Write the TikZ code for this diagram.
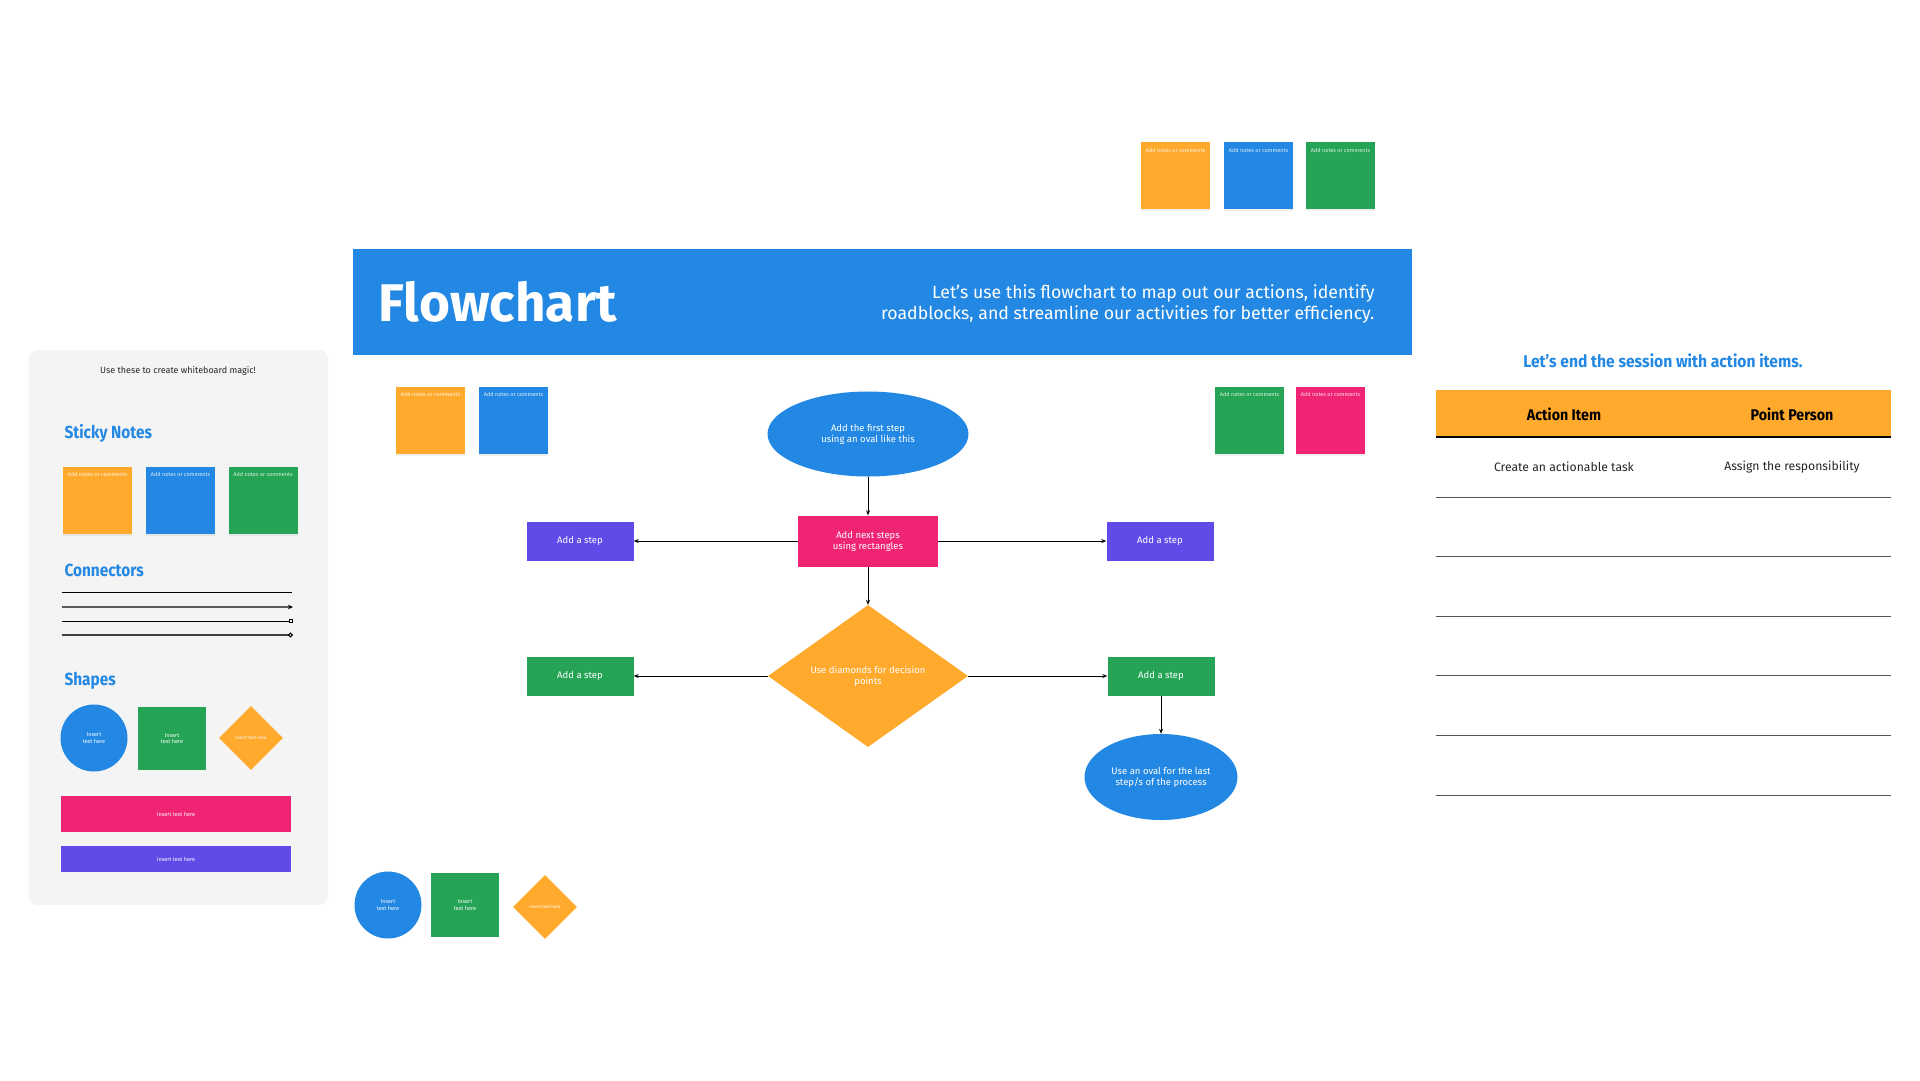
\documentclass[tikz,border=0pt]{standalone}
\usepackage{fontspec}
\setmainfont{Fira Sans}
\usepackage{graphicx}
\usetikzlibrary{shapes.geometric,arrows.meta,shadows}
\definecolor{cOrange}{HTML}{FFA92D}
\definecolor{cBlue}{HTML}{2388E3}
\definecolor{cGreen}{HTML}{24A454}
\definecolor{cPink}{HTML}{F02475}
\definecolor{cPurple}{HTML}{604BE8}
\definecolor{cPanel}{HTML}{F4F4F4}
\definecolor{cLine}{HTML}{555555}
\newcommand{\fsz}[2]{\fontsize{#1}{#2}\selectfont}
\newcommand{\cond}[1]{\scalebox{0.88}[1]{#1}}
\tikzset{
  sticky/.style={fill=#1, minimum width=69pt, minimum height=67pt, inner sep=0pt,
    drop shadow={shadow xshift=0pt, shadow yshift=-2pt, opacity=0.12},
    label={[anchor=north, inner sep=0pt, yshift=-6pt, font=\fsz{5.5}{6}, text=white!85!#1]north:Add notes or comments}},
  stepbox/.style={fill=#1, inner sep=0pt, text=white, font=\fsz{9.5}{11}, align=center},
  ovalbox/.style={ellipse, fill=cBlue, inner sep=0pt, text=white, font=\fsz{9.5}{11}, align=center},
  arr/.style={draw=black, line width=0.9pt, -{Stealth[length=5pt,width=4pt]}},
  heading/.style={anchor=west, text=cBlue, font=\bfseries\fsz{17.5}{20}},
  tiny/.style={text=white, font=\fsz{5.5}{6.5}, align=center},
  tline/.style={draw=cLine, line width=1pt},
}
\begin{document}
\begin{tikzpicture}[x=1pt,y=-1pt]
\useasboundingbox[fill=white] (0,0) rectangle (1920,1080);

% ---------- top sticky notes
\node[sticky=cOrange] (tn1) at (1175.5,175.5) {};
\node[sticky=cBlue]   (tn2) at (1258.5,175.5) {};
\node[sticky=cGreen]  (tn3) at (1340.5,175.5) {};

% ---------- banner
\fill[cBlue] (353,249) rectangle (1412,355);
\node[anchor=west, text=white, font=\fsz{53}{60}\bfseries] (title) at (375,302) {Flowchart};
\node[anchor=east, text=white, font=\fsz{17.7}{21.5}, align=right] (desc) at (1378,304)
  {Let's use this flowchart to map out our actions, identify\\roadblocks, and streamline our activities for better efficiency.};

% ---------- flowchart sticky notes
\node[sticky=cOrange] (fn1) at (430.5,420) {};
\node[sticky=cBlue]   (fn2) at (513.5,420) {};
\node[sticky=cGreen]  (fn3) at (1249.5,420) {};
\node[sticky=cPink]   (fn4) at (1330.5,420) {};

% ---------- flowchart
\node[ovalbox, minimum width=201pt, minimum height=85pt] (start) at (868,434)
  {Add the first step\\using an oval like this};
\node[stepbox=cPink, minimum width=140pt, minimum height=51pt] (next) at (868,541)
  {Add next steps\\using rectangles};
\node[stepbox=cPurple, minimum width=107pt, minimum height=39pt] (lstepa) at (580,541) {Add a step};
\node[stepbox=cPurple, minimum width=107pt, minimum height=39pt] (rstepa) at (1160,541) {Add a step};
\node[diamond, fill=cOrange, inner sep=0pt, minimum width=200pt, minimum height=142pt,
  text=white, font=\fsz{9.5}{11}, align=center] (dec) at (868,676)
  {Use diamonds for decision\\points};
\node[stepbox=cGreen, minimum width=107pt, minimum height=39pt] (lstepb) at (580,676) {Add a step};
\node[stepbox=cGreen, minimum width=107pt, minimum height=39pt] (rstepb) at (1161,676) {Add a step};
\node[ovalbox, minimum width=153pt, minimum height=86pt] (stop) at (1161,777)
  {Use an oval for the last\\step/s of the process};

\draw[arr] (start) -- (next);
\draw[arr] (next) -- (lstepa);
\draw[arr] (next) -- (rstepa);
\draw[arr] (next) -- (dec);
\draw[arr] (dec) -- (lstepb);
\draw[arr] (dec) -- (rstepb);
\draw[arr] (rstepb) -- (stop);

% ---------- bottom shapes
\node[circle, fill=cBlue, minimum size=67pt, inner sep=0pt, tiny] (bc) at (388,905) {Insert\\text here};
\node[fill=cGreen, minimum width=68pt, minimum height=64pt, inner sep=0pt, tiny] (bs) at (465,905) {Insert\\text here};
\node[diamond, fill=cOrange, minimum width=64pt, minimum height=64pt, inner sep=0pt, tiny, font=\fsz{4.5}{5}] (bd) at (545,907) {Insert text here};

% ---------- left panel
\fill[cPanel, rounded corners=9pt] (29,350) rectangle (328,905);
\node[font=\fsz{9}{11}, text=black!85] (ptitle) at (178,371) {Use these to create whiteboard magic!};
\node[heading] (hsn) at (61,433) {\cond{Sticky Notes}};
\node[sticky=cOrange] (pn1) at (97.5,500) {};
\node[sticky=cBlue]   (pn2) at (180.5,500) {};
\node[sticky=cGreen]  (pn3) at (263,500) {};
\node[heading] (hcn) at (61,570) {\cond{Connectors}};
\coordinate (c1a) at (62,592); \coordinate (c1b) at (292,592);
\coordinate (c2a) at (62,607); \coordinate (c2b) at (293,607);
\coordinate (c3a) at (62,621); \coordinate (c3b) at (293,621);
\coordinate (c4a) at (62,635); \coordinate (c4b) at (293,635);
\draw[line width=1pt, black] (c1a) -- (c1b);
\draw[line width=1.1pt, black!65, -{Stealth[length=5pt,width=4.5pt,color=black]}] (c2a) -- (c2b);
\draw[line width=1pt, black, -{Square[open,length=4.5pt,width=4.5pt]}] (c3a) -- (c3b);
\draw[line width=1.1pt, black!75, -{Circle[open,length=5pt,width=5pt,color=black]}] (c4a) -- (c4b);
\node[heading] (hsh) at (61,681) {\cond{Shapes}};
\node[circle, fill=cBlue, minimum size=67pt, inner sep=0pt, tiny] (pc) at (94,738) {Insert\\text here};
\node[fill=cGreen, minimum width=68pt, minimum height=63pt, inner sep=0pt, tiny] (ps) at (172,738.5) {Insert\\text here};
\node[diamond, fill=cOrange, minimum width=64pt, minimum height=64pt, inner sep=0pt, tiny, font=\fsz{4.5}{5}] (pd) at (251,738) {Insert text here};
\node[fill=cPink, minimum width=230pt, minimum height=36pt, inner sep=0pt, tiny] (pbar1) at (176,814) {Insert text here};
\node[fill=cPurple, minimum width=230pt, minimum height=26pt, inner sep=0pt, tiny] (pbar2) at (176,859) {Insert text here};

% ---------- action items table
\node[text=cBlue, font=\bfseries\fsz{17}{19}] (ttitle) at (1663,361) {\scalebox{0.92}[1]{Let's end the session with action items.}};
\fill[cOrange] (1436,390) rectangle (1891,437);
\draw[line width=1.3pt, black] (1436,437) -- (1891,437);
\node[font=\bfseries\fsz{15.5}{18}] (h1) at (1564,414) {\scalebox{0.92}[1]{Action Item}};
\node[font=\bfseries\fsz{15.5}{18}] (h2) at (1792,414) {\scalebox{0.92}[1]{Point Person}};
\node[font=\fsz{12.2}{14}, text=black!85] (r1a) at (1564,467) {Create an actionable task};
\node[font=\fsz{12.2}{14}, text=black!85] (r1b) at (1792,467) {Assign the responsibility};
\foreach \yy in {497,556.5,616,675.5,735,795} {
  \draw[tline] (1436,\yy) -- (1891,\yy);
}
\end{tikzpicture}
\end{document}
